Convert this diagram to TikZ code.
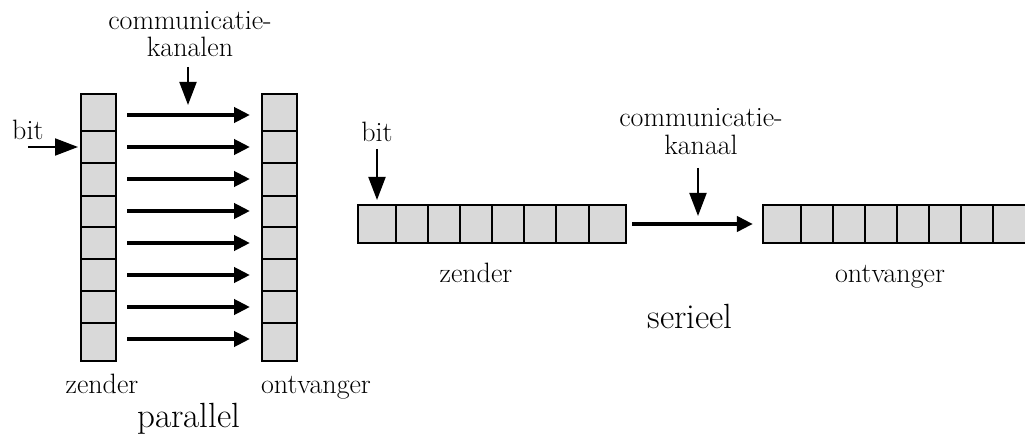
\documentclass[tikz,border=0pt]{standalone}
\usetikzlibrary{arrows.meta}
\definecolor{cellgray}{HTML}{D9D9D9}
\tikzset{
  cell/.style={draw=black, fill=cellgray, line width=2.2pt, inner sep=0pt, rectangle},
  lbl/.style={inner sep=0pt, anchor=base, font=\fontsize{28}{32}\selectfont},
  twolbl/.style={inner sep=0pt, anchor=base, align=center},
  biglbl/.style={inner sep=0pt, anchor=base, font=\fontsize{35}{40}\selectfont},
  fatarrow/.style={line width=4pt, -{Triangle[length=16pt,width=15pt]}},
  thinarrow/.style={line width=2pt, -{Triangle[length=23pt,width=17pt]}}
}
\begin{document}
\begin{tikzpicture}[x=1pt,y=-1pt]
\useasboundingbox (0,0) rectangle (1025,443);
% parallel sender and receiver columns
\foreach \t/\b [count=\i] in {94/131,131/163,163/196,196/227,227/259,259/291,291/323,323/361}{
  \node[cell, minimum width=35pt, minimum height={(\b-\t)*1pt}] (z\i) at (98.5,{(\t+\b)/2}) {};
  \node[cell, minimum width=35pt, minimum height={(\b-\t)*1pt}] (o\i) at (279.5,{(\t+\b)/2}) {};
}
% parallel channel arrows
\foreach \y [count=\i] in {115,147,179,211,243,275,307,339}{
  \coordinate (pa\i) at (127,\y);
  \coordinate (pb\i) at (250,\y);
  \draw[fatarrow] (pa\i) -- (pb\i);
}
% serial sender and receiver rows
\foreach \l/\r [count=\i] in {358/396,396/428,428/460,460/492,492/524,524/556,556/589,589/626}{
  \node[cell, minimum height=38pt, minimum width={(\r-\l)*1pt}] (s\i) at ({(\l+\r)/2},224) {};
}
\foreach \l/\r [count=\i] in {763/801,801/833,833/865,865/897,897/929,929/961,961/993,993/1028}{
  \node[cell, minimum height=38pt, minimum width={(\r-\l)*1pt}] (r\i) at ({(\l+\r)/2},224) {};
}
\draw[fatarrow] ([xshift=5pt]s8.east) -- ([xshift=-9pt]r1.west);
% labels parallel
\node[twolbl, font=\fontsize{28}{27}\selectfont] (ck) at (190,57) {communicatie-\\kanalen};
\node[lbl, anchor=base west] (pbit) at (12,140) {bit};
\node[lbl] (pz) at (102,393) {zender};
\node[lbl] (po) at (316,393) {ontvanger};
\node[biglbl] (ppar) at (189,427) {parallel};
% labels serial
\node[lbl] (sbit) at (377,142) {bit};
\node[twolbl, font=\fontsize{28}{28}\selectfont] (sk) at (701,155) {communicatie-\\kanaal};
\node[lbl] (sz) at (476,283) {zender};
\node[lbl] (so) at (890,283) {ontvanger};
\node[biglbl] (sser) at (690,329) {serieel};
% pointer arrows
\coordinate (pbitA) at (28,147); \coordinate (pbitB) at (78,147);
\draw[thinarrow] (pbitA) -- (pbitB);
\coordinate (pkA) at (188,67); \coordinate (pkB) at (188,105);
\draw[thinarrow] (pkA) -- (pkB);
\coordinate (sbitA) at (377,149); \coordinate (sbitB) at (377,200);
\draw[thinarrow] (sbitA) -- (sbitB);
\coordinate (skA) at (698,168); \coordinate (skB) at (698,216);
\draw[thinarrow] (skA) -- (skB);
\end{tikzpicture}
\end{document}
